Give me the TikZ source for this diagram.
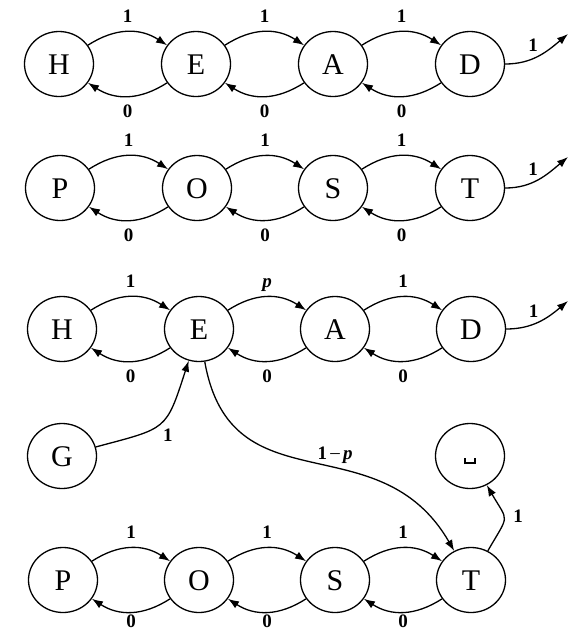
\documentclass[tikz,border=0pt]{standalone}
\usepackage{fontspec}
\setmainfont{Liberation Serif}
\usetikzlibrary{arrows.meta,shapes.geometric}
\begin{document}
\begin{tikzpicture}[x=1pt,y=1pt,
  state/.style={ellipse,draw,line width=1.3pt,minimum width=69pt,minimum height=65pt,
    inner sep=0pt,font=\fontsize{30}{30}\selectfont,text height=20pt,text depth=0pt},
  trans/.style={line width=1.3pt,-{Latex[length=11pt,width=8pt]}},
  lbl/.style={font=\bfseries\fontsize{19}{19}\selectfont,inner sep=1pt,text height=12pt,text depth=3pt},
  fwd/.style={trans,out=33,in=147,looseness=1.05},
  back/.style={trans,out=-147,in=-33,looseness=1.05},
  exit/.style={trans,out=0,in=220},
  up/.style={lbl,midway,above=5pt},
  down/.style={lbl,midway,below=8pt},
  downlow/.style={lbl,midway,below=1.5pt,text depth=0pt}]
\useasboundingbox (0,0) rectangle (570,-633);

% HEAD
\node[state] (h1) at (59,-64) {H};
\node[state] (e1) at (196,-64) {E};
\node[state] (a1) at (333,-64) {A};
\node[state] (d1) at (470,-64) {D};
\coordinate (x1) at (568,-34);
\draw[fwd] (h1) to node[up]{1} (e1);
\draw[fwd] (e1) to node[up]{1} (a1);
\draw[fwd] (a1) to node[up]{1} (d1);
\draw[back] (e1) to node[down]{0} (h1);
\draw[back] (a1) to node[down]{0} (e1);
\draw[back] (d1) to node[down]{0} (a1);
\draw[exit] (d1) to node[lbl,pos=0.4,above=2pt]{1} (x1);

% POST
\node[state] (p1) at (60,-188) {P};
\node[state] (o1) at (197,-188) {O};
\node[state] (s1) at (333,-188) {S};
\node[state] (t1) at (470,-188) {T};
\coordinate (x2) at (568,-157);
\draw[fwd] (p1) to node[up]{1} (o1);
\draw[fwd] (o1) to node[up]{1} (s1);
\draw[fwd] (s1) to node[up]{1} (t1);
\draw[back] (o1) to node[down]{0} (p1);
\draw[back] (s1) to node[down]{0} (o1);
\draw[back] (t1) to node[down]{0} (s1);
\draw[exit] (t1) to node[lbl,pos=0.4,above=2pt]{1} (x2);

% combined machine
\node[state] (h2) at (62,-329) {H};
\node[state] (e2) at (199,-329) {E};
\node[state] (a2) at (335,-329) {A};
\node[state] (d2) at (471,-329) {D};
\coordinate (x3) at (568,-301);
\draw[fwd] (h2) to node[up]{1} (e2);
\draw[fwd] (e2) to node[up]{\textit{p}} (a2);
\draw[fwd] (a2) to node[up]{1} (d2);
\draw[back] (e2) to node[down]{0} (h2);
\draw[back] (a2) to node[down]{0} (e2);
\draw[back] (d2) to node[down]{0} (a2);
\draw[exit] (d2) to node[lbl,pos=0.4,above=2pt]{1} (x3);

\node[state] (g) at (62,-456) {G};
\node[state] (sp) at (470,-456) {\raisebox{2pt}{\rule{1.6pt}{6pt}\rule{8pt}{1.6pt}\rule{1.6pt}{6pt}}};

\node[state] (p2) at (63,-580) {P};
\node[state] (o2) at (199,-580) {O};
\node[state] (s2) at (335,-580) {S};
\node[state] (t2) at (471,-580) {T};
\draw[fwd] (p2) to node[up]{1} (o2);
\draw[fwd] (o2) to node[up]{1} (s2);
\draw[fwd] (s2) to node[up]{1} (t2);
\draw[back] (o2) to node[downlow]{0} (p2);
\draw[back] (s2) to node[downlow]{0} (o2);
\draw[back] (t2) to node[downlow]{0} (s2);

\draw[trans] (g) to[out=15,in=-108,looseness=1.5]
  node[lbl,pos=0.5,anchor=north west,xshift=1pt,yshift=-5pt]{1} (e2);
\draw[trans] (e2) to[out=-80,in=120,looseness=1.23]
  node[lbl,pos=0.55,anchor=south,xshift=9pt,yshift=3pt]{1\,\textmd{\raisebox{0.5pt}{--}}\,\textit{p}} (t2);
\draw[trans] (t2) to[out=60,in=-60,looseness=1.7]
  node[lbl,pos=0.5,right=8pt]{1} (sp);
\end{tikzpicture}
\end{document}
